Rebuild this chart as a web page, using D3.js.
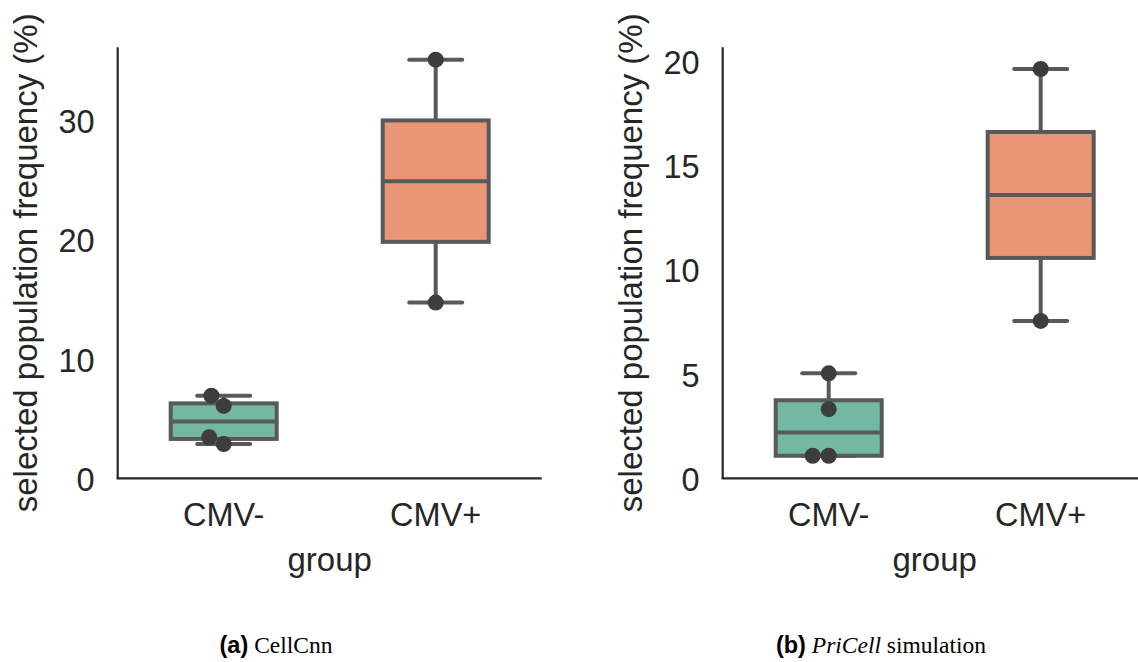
<!DOCTYPE html>
<html>
<head>
<meta charset="utf-8">
<script src="https://cdn.jsdelivr.net/npm/d3@7"></script>
<style>
  html, body { margin: 0; padding: 0; background: #ffffff; }
  svg { display: block; }
  .sans { font-family: "Liberation Sans", Arial, Helvetica, sans-serif; fill: #262626; }
</style>
</head>
<body>
<svg id="chart" width="1138" height="662"></svg>
<script>
// Group names shared by both panels
const categories = ["CMV-", "CMV+"];

// Per-sample selected population frequency (%) for each group
const cellcnnNeg = [2.87, 3.44, 6.06, 6.92];
const cellcnnPos = [14.72, 35.06];
const pricellNeg = [1.08, 1.08, 3.31, 5.03];
const pricellPos = [7.54, 19.61];

// Y tick values
const cellcnnTicks = [0, 10, 20, 30];
const pricellTicks = [0, 5, 10, 15, 20];

// Upper limit of each value axis
const cellcnnMax = 36.1;
const pricellMax = 20.65;

const yLabel = "selected population frequency (%)";
const xLabel = "group";

const boxFills = ["#73b8a2", "#e89675"];
const boxLine = "#595959";
const dotColor = "#3d3d3d";
const axisColor = "#262626";
const SANS = '"Liberation Sans", Arial, Helvetica, sans-serif';
const SERIF = '"Liberation Serif", "Times New Roman", Times, serif';

const svg = d3.select("#chart");

// Swarm layout: offsets (px) along the category axis so dots do not overlap
function swarmOffsets(vals, y, r) {
  const order = vals.map((v, i) => i).sort((a, b) => vals[a] - vals[b]);
  const placed = [];
  const out = new Array(vals.length).fill(0);
  const d = 2 * r;
  order.forEach(i => {
    const py = y(vals[i]);
    const cands = [0];
    placed.forEach(p => {
      const dy = Math.abs(p.y - py);
      if (dy < d) {
        const dx = Math.sqrt(d * d - dy * dy);
        cands.push(p.x - dx, p.x + dx);
      }
    });
    const sorted = cands.map((c, k) => ({ c, k }))
      .sort((a, b) => (Math.abs(a.c) - Math.abs(b.c)) || (a.k - b.k));
    let chosen = 0;
    for (const s of sorted) {
      const ok = placed.every(p => Math.hypot(p.x - s.c, p.y - py) >= d - 1e-6);
      if (ok) { chosen = s.c; break; }
    }
    placed.push({ x: chosen, y: py });
    out[i] = chosen;
  });
  return out;
}

function drawPanel(cfg) {
  const g = svg.append("g");
  const x = d3.scaleBand().domain(categories).range([cfg.left, cfg.right]).padding(0);
  const y = d3.scaleLinear().domain([0, cfg.ymax]).range([cfg.bottom, cfg.top]);
  const boxW = x.bandwidth() * 0.5;
  const capW = boxW * 0.5;
  const r = 8;

  cfg.groups.forEach((vals, gi) => {
    const cx = x(categories[gi]) + x.bandwidth() / 2;
    const s = vals.slice().sort(d3.ascending);
    const q1 = d3.quantile(s, 0.25), med = d3.quantile(s, 0.5), q3 = d3.quantile(s, 0.75);
    const iqr = q3 - q1;
    const lo = d3.min(s.filter(v => v >= q1 - 1.5 * iqr));
    const hi = d3.max(s.filter(v => v <= q3 + 1.5 * iqr));
    const gg = g.append("g");

    // whiskers
    gg.append("line").attr("x1", cx).attr("x2", cx).attr("y1", y(q3)).attr("y2", y(hi))
      .attr("stroke", boxLine).attr("stroke-width", 4);
    gg.append("line").attr("x1", cx).attr("x2", cx).attr("y1", y(q1)).attr("y2", y(lo))
      .attr("stroke", boxLine).attr("stroke-width", 4);
    // caps
    [lo, hi].forEach(v => {
      gg.append("line").attr("x1", cx - capW / 2).attr("x2", cx + capW / 2)
        .attr("y1", y(v)).attr("y2", y(v))
        .attr("stroke", boxLine).attr("stroke-width", 4).attr("stroke-linecap", "round");
    });
    // box
    gg.append("rect").attr("x", cx - boxW / 2).attr("width", boxW)
      .attr("y", y(q3)).attr("height", y(q1) - y(q3))
      .attr("fill", boxFills[gi]).attr("stroke", boxLine).attr("stroke-width", 4);
    // median
    gg.append("line").attr("x1", cx - boxW / 2).attr("x2", cx + boxW / 2)
      .attr("y1", y(med)).attr("y2", y(med))
      .attr("stroke", boxLine).attr("stroke-width", 4);

    // individual samples
    const offs = swarmOffsets(vals, y, r);
    gg.selectAll("circle.pt").data(vals).join("circle")
      .attr("class", "pt")
      .attr("cx", (v, i) => cx + offs[i])
      .attr("cy", v => y(v))
      .attr("r", r)
      .attr("fill", dotColor);
  });

  // spines
  g.append("line").attr("x1", cfg.left).attr("x2", cfg.left)
    .attr("y1", cfg.top).attr("y2", cfg.bottom)
    .attr("stroke", axisColor).attr("stroke-width", 2.2);
  g.append("line").attr("x1", cfg.left - 1.1).attr("x2", cfg.right)
    .attr("y1", cfg.bottom).attr("y2", cfg.bottom)
    .attr("stroke", axisColor).attr("stroke-width", 2.2);

  // y axis tick labels (no tick marks)
  const yAxis = d3.axisLeft(y).tickValues(cfg.ticks).tickSize(0).tickPadding(23);
  const ya = g.append("g").attr("transform", `translate(${cfg.left},0)`).call(yAxis);
  ya.select(".domain").remove();
  ya.selectAll("text").attr("class", "sans").style("font-size", "32.5px")
    .style("fill", axisColor).attr("dy", "0.38em");

  // x axis tick labels
  const xAxis = d3.axisBottom(x).tickSize(0).tickPadding(24);
  const xa = g.append("g").attr("transform", `translate(0,${cfg.bottom})`).call(xAxis);
  xa.select(".domain").remove();
  xa.selectAll("text").attr("class", "sans").style("font-size", "32.5px")
    .style("fill", axisColor).attr("dy", "0.72em");

  // axis titles
  g.append("text").attr("class", "sans").attr("x", cfg.left + x.bandwidth()).attr("y", cfg.bottom + 93)
    .attr("text-anchor", "middle").style("font-size", "33px").text(xLabel);
  g.append("text").attr("class", "sans")
    .attr("transform", `translate(${cfg.left - 81},${(cfg.top + cfg.bottom) / 2}) rotate(-90)`)
    .attr("text-anchor", "middle").style("font-size", "33px").text(yLabel);

  // caption: bold sans tag followed by serif text
  const cap = svg.append("text").attr("x", cfg.capX).attr("y", 653)
    .attr("text-anchor", "middle")
    .style("font-size", "23.5px").style("font-family", SERIF).style("fill", "#000");
  cap.append("tspan").style("font-family", SANS).style("font-weight", "bold").text(cfg.tag);
  cfg.caption.forEach(part => {
    cap.append("tspan").style("font-family", SERIF)
      .style("font-style", part.italic ? "italic" : "normal").text(part.t);
  });
}

drawPanel({
  left: 117.7, right: 541.7, top: 47.3, bottom: 478.3,
  ymax: cellcnnMax, ticks: cellcnnTicks,
  groups: [cellcnnNeg, cellcnnPos],
  capX: 276, tag: "(a)", caption: [{ t: " CellCnn" }]
});

drawPanel({
  left: 722.7, right: 1146.7, top: 47.3, bottom: 478.3,
  ymax: pricellMax, ticks: pricellTicks,
  groups: [pricellNeg, pricellPos],
  capX: 881, tag: "(b)", caption: [{ t: " " }, { t: "PriCell", italic: true }, { t: " simulation" }]
});
</script>
</body>
</html>
